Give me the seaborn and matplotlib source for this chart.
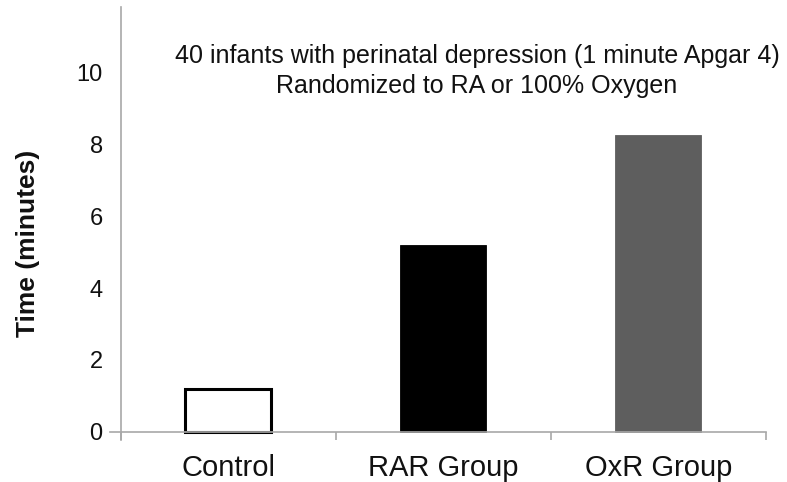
import matplotlib
matplotlib.use("Agg")
import matplotlib.pyplot as plt
import seaborn as sns
import pandas as pd

# Time to sustained spontaneous breathing by group
groups = ["Control", "RAR Group", "OxR Group"]
minutes = [1.2, 5.2, 8.25]
fills = ["#ffffff", "#000000", "#5e5e5e"]
y_ticks = [0, 2, 4, 6, 8, 10]
title_lines = [
    "40 infants with perinatal depression (1 minute Apgar 4)",
    "Randomized to RA or 100% Oxygen",
]

sns.set_theme(style="white")
plt.rcParams["font.family"] = ["Liberation Sans", "DejaVu Sans"]

df = pd.DataFrame({"group": groups, "minutes": minutes})

W, H = 787, 482
fig = plt.figure(figsize=(W / 100, H / 100), dpi=100)
ax = fig.add_axes([110 / W, (H - 442.8) / H, (770 - 110) / W, (442.8 - 7.2) / H])

sns.barplot(data=df, x="group", y="minutes", hue="group", palette=fills,
            width=0.4, legend=False, ax=ax, saturation=1)

for patch, fc in zip(ax.patches, fills):
    patch.set_facecolor(fc)
    if fc == "#ffffff":
        patch.set_edgecolor("#000000")
        patch.set_linewidth(2.2)
    else:
        patch.set_edgecolor(fc)
        patch.set_linewidth(0.6)

ax.set_xlim(-0.55, 2.52)
ax.set_ylim(-0.3, 11.8)

axis_gray = "#a8a8a8"
for side in ["top", "right"]:
    ax.spines[side].set_visible(False)
ax.spines["left"].set_position(("data", -0.5))
ax.spines["left"].set_bounds(-0.22, 11.8)
ax.spines["bottom"].set_position(("data", 0))
ax.spines["bottom"].set_bounds(-0.55, 2.5)
for side in ["left", "bottom"]:
    ax.spines[side].set_color(axis_gray)
    ax.spines[side].set_linewidth(1.2)

# Category boundaries as tick marks, names as minor-tick labels
ax.set_xticks([-0.5, 0.5, 1.5, 2.5])
ax.set_xticklabels([])
ax.tick_params(axis="x", which="major", direction="out", length=6,
               width=1.2, color=axis_gray, bottom=True)
ax.set_xticks([0, 1, 2], minor=True)
ax.set_xticklabels(groups, minor=True)
ax.tick_params(axis="x", which="minor", length=0, pad=16, labelsize=21,
               labelcolor="#111111")

ax.set_yticks(y_ticks)
ax.set_yticklabels([str(v) for v in y_ticks])
ax.tick_params(axis="y", length=0, pad=13, labelsize=17, labelcolor="#111111")

ax.set_xlabel("")
ax.set_ylabel("Time (minutes)", fontsize=19, fontweight="bold", color="#111111")
ax.yaxis.set_label_coords((28 - 110) / 660, (442.8 - 243) / 435.6)
ax.yaxis.label.set_va("center")

fig.text(477 / W, 1 - 56 / H, title_lines[0], ha="center", va="center",
         fontsize=18, color="#111111")
fig.text(477 / W, 1 - 86 / H, title_lines[1], ha="center", va="center",
         fontsize=18, color="#111111")

fig.savefig("out.png", dpi=100, facecolor="white")
